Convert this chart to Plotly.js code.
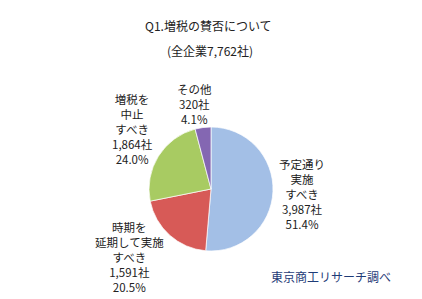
<!DOCTYPE html>
<html>
<head>
<meta charset="utf-8">
<script src="https://cdn.plot.ly/plotly-3.0.1.min.js"></script>
<style>html,body{margin:0;padding:0;background:#fff;}</style>
</head>
<body>
<div id="chart" style="width:422px;height:299px;"></div>
<script>
// Data
const categories = ["予定通り<br>実施<br>すべき", "時期を<br>延期して実施<br>すべき", "増税を<br>中止<br>すべき", "その他"];
const companyCounts = [3987, 1591, 1864, 320];
const percentLabels = ["51.4%", "20.5%", "24.0%", "4.1%"];
const sliceColors = ["#A3BFE6", "#D75A57", "#A8CB62", "#8467B2"];
const titleText = "Q1.増税の賛否について";
const subtitleText = "(全企業7,762社)";
const sourceText = "東京商工リサーチ調べ";

// label positions (pixels)
const labelPos = [
  {x: 302, y: 194},
  {x: 129, y: 257},
  {x: 132, y: 129},
  {x: 194, y: 104}
];

const W = 422, H = 299;
const cx = 211, cy = 189, r = 62;
const font = "'Noto Sans CJK JP', 'Noto Sans', sans-serif";

const annotations = categories.map((c, i) => ({
  text: c + "<br>" + companyCounts[i].toLocaleString("en-US") + "社<br>" + percentLabels[i],
  x: labelPos[i].x / W, y: 1 - labelPos[i].y / H,
  xref: "paper", yref: "paper", showarrow: false,
  xanchor: "center", yanchor: "middle", align: "center",
  font: {family: font, size: 11.5, color: "#222"}
}));
annotations.push({
  text: titleText, x: 208 / W, y: 1 - 26 / H, xref: "paper", yref: "paper",
  showarrow: false, xanchor: "center", yanchor: "middle",
  font: {family: font, size: 12, color: "#222"}
});
annotations.push({
  text: subtitleText, x: 210 / W, y: 1 - 50 / H, xref: "paper", yref: "paper",
  showarrow: false, xanchor: "center", yanchor: "middle",
  font: {family: font, size: 12, color: "#222"}
});
annotations.push({
  text: sourceText, x: 331 / W, y: 1 - 276 / H, xref: "paper", yref: "paper",
  showarrow: false, xanchor: "center", yanchor: "middle",
  font: {family: font, size: 12, color: "#1F3C78"}
});

const trace = {
  type: "pie",
  labels: categories,
  values: companyCounts,
  sort: false,
  direction: "clockwise",
  rotation: 0,
  textinfo: "none",
  hoverinfo: "none",
  marker: {colors: sliceColors, line: {color: "rgba(255,255,255,0.7)", width: 1}},
  domain: {x: [(cx - r) / W, (cx + r) / W], y: [(H - cy - r) / H, (H - cy + r) / H]}
};

Plotly.newPlot("chart", [trace], {
  width: W, height: H,
  margin: {l: 0, r: 0, t: 0, b: 0},
  showlegend: false,
  paper_bgcolor: "#fff",
  annotations: annotations
}, {staticPlot: true});
</script>
</body>
</html>
